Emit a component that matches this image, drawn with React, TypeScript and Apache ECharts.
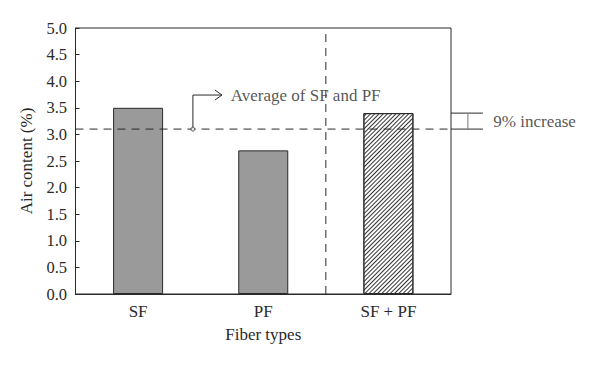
import React, { useEffect, useRef } from "react";
import * as echarts from "echarts";

const categories = ["SF", "PF", "SF + PF"];
const airContent = [3.5, 2.7, 3.4];
const averageSFPF = 3.1;
const yTicks = { min: 0, max: 5, interval: 0.5 };
const increaseLabel = "9% increase";
const averageLabel = "Average of SF and PF";

const FONT = "'Liberation Serif', 'DejaVu Serif', serif";
const INK = "#2a2a2a";

const W = 600;
const H = 365;
const GL = 75.5;
const GR = 149;
const GT = 28;
const GB = 71;
const overlayMax = (3 * (W - GL)) / (W - GL - GR);

export default function App() {
  const ref = useRef<HTMLDivElement>(null);
  useEffect(() => {
    if (!ref.current) return;
    const chart = echarts.init(ref.current, undefined, { renderer: "svg" });
    const dash = { type: [8, 6] as number[], color: INK, width: 1 };
    const ov = { xAxisIndex: 1, yAxisIndex: 1 };
    chart.setOption({
      animation: false,
      backgroundColor: "#fff",
      textStyle: { fontFamily: FONT, color: INK },
      grid: [
        { left: GL, right: GR, top: GT, bottom: GB, show: true, borderColor: INK, borderWidth: 1, containLabel: false },
        { left: GL, right: 0, top: GT, bottom: GB, show: false, containLabel: false },
      ],
      xAxis: [
        {
          type: "category",
          gridIndex: 0,
          data: categories,
          name: "Fiber types",
          nameLocation: "middle",
          nameGap: 32,
          nameTextStyle: { fontFamily: FONT, fontSize: 17, color: INK },
          axisLine: { lineStyle: { color: INK } },
          axisTick: { show: false },
          axisLabel: { fontFamily: FONT, fontSize: 17, color: INK, margin: 9 },
        },
        { type: "value", gridIndex: 1, min: 0, max: overlayMax, show: false },
      ],
      yAxis: [
        {
          type: "value",
          gridIndex: 0,
          min: yTicks.min,
          max: yTicks.max,
          interval: yTicks.interval,
          name: "Air content (%)",
          nameLocation: "middle",
          nameGap: 38,
          nameTextStyle: { fontFamily: FONT, fontSize: 17, color: INK },
          axisLine: { show: true, lineStyle: { color: INK } },
          axisTick: { show: true, inside: true, length: 4, lineStyle: { color: INK } },
          splitLine: { show: false },
          axisLabel: { fontFamily: FONT, fontSize: 16.5, color: INK, margin: 8.5, formatter: (v: number) => v.toFixed(1) },
        },
        { type: "value", gridIndex: 1, min: yTicks.min, max: yTicks.max, show: false },
      ],
      series: [
        {
          type: "bar",
          barWidth: 50,
          data: airContent.map((v, i) =>
            i < 2
              ? { value: v, itemStyle: { color: "#9a9a9a", borderColor: INK, borderWidth: 1 } }
              : {
                  value: v,
                  itemStyle: {
                    color: "#ffffff",
                    borderColor: INK,
                    borderWidth: 1,
                    decal: {
                      symbol: "rect",
                      symbolSize: 1,
                      color: "#333",
                      backgroundColor: "#fff",
                      dashArrayX: [1, 0],
                      dashArrayY: [1, 2],
                      rotation: -Math.PI / 4,
                    },
                  },
                }
          ),
          z: 2,
        },
        {
          type: "line",
          ...ov,
          data: [[0, averageSFPF], [3, averageSFPF]],
          symbol: "none",
          lineStyle: dash,
          z: 5,
        },
        {
          type: "line",
          ...ov,
          data: [[2, 0], [2, yTicks.max]],
          symbol: "none",
          lineStyle: dash,
          z: 5,
        },
        // 9% increase bracket
        {
          type: "line",
          ...ov,
          data: [[3, airContent[2]], [3.255, airContent[2]]],
          symbol: "none",
          lineStyle: { color: INK, width: 1 },
        },
        {
          type: "line",
          ...ov,
          data: [[3, averageSFPF], [3.255, averageSFPF]],
          symbol: "none",
          lineStyle: { color: INK, width: 1 },
        },
        {
          type: "line",
          ...ov,
          data: [[3.135, averageSFPF], [3.135, airContent[2]]],
          symbol: "none",
          lineStyle: { color: "#777", width: 1 },
        },
        {
          type: "scatter",
          ...ov,
          symbolSize: 0,
          data: [[3.33, (averageSFPF + airContent[2]) / 2]],
          label: { show: true, position: "right", formatter: increaseLabel, fontFamily: FONT, fontSize: 17, color: INK, offset: [-4, 0] },
          z: 6,
        },
        // Average annotation arrow
        {
          type: "line",
          ...ov,
          data: [[0.938, averageSFPF], [0.938, 3.74], [1.17, 3.74]],
          symbol: "none",
          lineStyle: { color: INK, width: 1 },
          z: 6,
        },
        {
          type: "line",
          ...ov,
          data: [[1.114, 3.834], [1.17, 3.74], [1.114, 3.646]],
          symbol: "none",
          lineStyle: { color: INK, width: 1 },
          z: 6,
        },
        {
          type: "scatter",
          ...ov,
          symbol: "circle",
          symbolSize: 4,
          itemStyle: { color: "#fff", borderColor: INK, borderWidth: 1 },
          data: [[0.938, averageSFPF]],
          z: 7,
        },
        {
          type: "scatter",
          ...ov,
          symbolSize: 0,
          data: [[1.2, 3.74]],
          label: { show: true, position: "right", formatter: averageLabel, fontFamily: FONT, fontSize: 17, color: INK, offset: [0, 0] },
          z: 6,
        },
      ],
    });
    return () => chart.dispose();
  }, []);
  return <div ref={ref} style={{ position: "absolute", left: 0, top: 0, width: W, height: H }} />;
}
